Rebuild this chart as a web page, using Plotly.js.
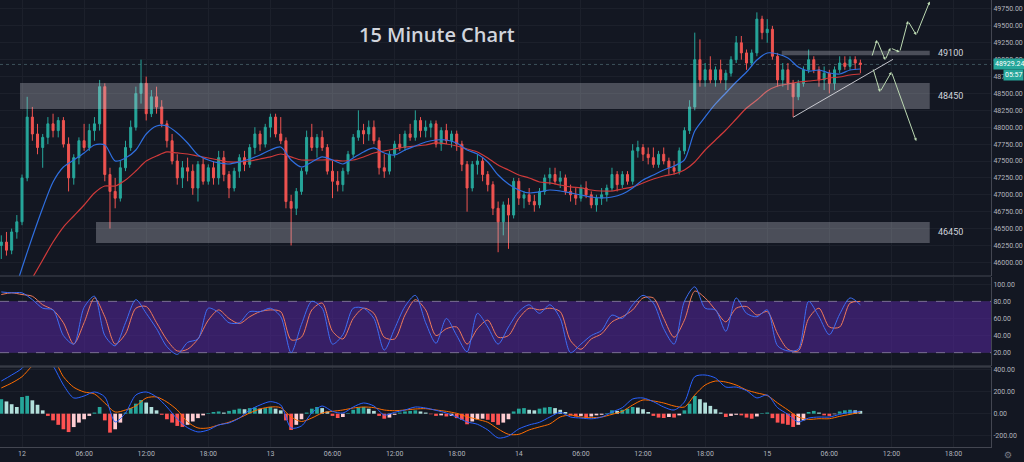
<!DOCTYPE html>
<html><head><meta charset="utf-8">
<script src="https://cdn.plot.ly/plotly-3.0.1.min.js"></script>
<style>html,body{margin:0;padding:0;background:#131722;}#chart{width:1024px;height:462px;}</style>
</head><body><div id="chart"></div>
<script>
// ---------- DATA (30-minute candles) ----------
const firstCandle = '2021-02-11 22:00:00';
const candleMinutes = 30;
const opens = [46250,46300,46180,46450,46600,47250,48150,47900,47700,47850,
48050,47950,48100,47750,47250,47550,47800,47700,47950,48050,
48600,47300,47050,46950,47400,47700,48000,48500,48650,48200,
48450,48300,48050,47800,47500,47250,47400,47350,47100,47450,
47200,47400,47250,47550,47300,47100,47350,47550,47450,47700,
47900,47750,48000,48150,47900,47800,46900,46800,47050,47350,
47850,47700,47850,47700,47350,47200,47150,47350,47600,47850,
47950,47900,48000,47800,47400,47350,47600,47750,47700,47900,
47850,48100,47950,48000,48050,47750,47950,47800,47900,47750,
47450,47100,47450,47500,47300,47150,46800,46600,46850,46700,
47200,46950,47000,46900,46850,47050,47250,47300,47200,47250,
47050,47000,46950,47100,47000,46850,46950,47000,47100,47300,
47150,47300,47200,47650,47700,47600,47550,47450,47600,47500,
47400,47350,47650,47950,48300,49000,48700,48850,48700,48850,
48700,48800,49000,49250,49100,48950,49100,49600,49400,49450,
49050,48700,48850,48650,48450,48650,48850,49000,48850,48700,
48800,48650,48850,48950,48900,49000,48950];
const highs = [46400,46450,46500,46700,47300,48450,48300,48050,47900,48150,
48200,48150,48150,47850,47600,47850,48050,48050,48150,48700,
48650,47400,47250,47500,47800,48100,48600,49000,48750,48550,
48600,48400,48100,47900,47600,47500,47550,47450,47500,47550,
47450,47500,47650,47650,47350,47400,47600,47650,47750,48000,
47950,48050,48200,48200,48150,47850,47000,47100,47400,47950,
48050,47900,47950,47750,47500,47350,47400,47650,47900,48250,
48050,48100,48100,47850,47600,47650,47800,47900,47950,48050,
48250,48150,48100,48100,48100,48000,48050,47950,47950,47800,
47500,47500,47600,47550,47350,47200,46900,46900,46950,47250,
47250,47050,47100,47000,47100,47300,47400,47400,47350,47300,
47150,47100,47150,47200,47050,47000,47100,47150,47400,47350,
47350,47350,47750,47800,47750,47700,47700,47650,47700,47550,
47500,47700,48000,48400,49400,49300,48950,49050,48900,49000,
48850,49050,49350,49350,49150,49150,49700,49650,49600,49500,
49100,48950,48950,48700,48700,48900,49150,49050,48900,48900,
48850,48900,49050,49050,49050,49050,49000];
const lows = [46050,46100,46120,46350,46550,47200,47800,47600,47400,47750,
47850,47850,47700,47050,47150,47450,47650,47650,47800,47950,
47200,46500,46800,46900,47350,47650,47950,48350,48100,48150,
48200,48000,47700,47450,47150,47100,47200,47000,46900,47150,
47150,47150,47150,47200,46950,47050,47250,47350,47400,47600,
47650,47700,47850,47850,47750,46800,46250,46700,47000,47300,
47650,47550,47650,47300,46950,47050,47050,47300,47550,47800,
47750,47800,47750,47300,47250,47300,47550,47650,47650,47800,
47800,47850,47850,47850,47700,47650,47750,47700,47650,47350,
46750,47050,47300,47200,47050,46700,46150,46400,46200,46650,
46850,46800,46850,46750,46800,47000,47150,47150,47100,47000,
46900,46850,46900,46950,46800,46750,46850,46900,47050,47050,
47100,47150,47150,47550,47500,47450,47400,47400,47450,47300,
47300,47300,47600,47900,48250,48600,48600,48650,48600,48650,
48550,48750,48950,49000,48850,48900,49050,49300,49250,49000,
48600,48600,48550,48150,48400,48600,48800,48800,48600,48550,
48500,48550,48800,48850,48850,48850,48800];
const closes = [46300,46180,46450,46600,47250,48150,47900,47700,47850,48050,
47950,48100,47750,47250,47550,47800,47700,47950,48050,48600,
47300,47050,46950,47400,47700,48000,48500,48650,48200,48450,
48300,48050,47800,47500,47250,47400,47350,47100,47450,47200,
47400,47250,47550,47300,47100,47350,47550,47450,47700,47900,
47750,48000,48150,47900,47800,46900,46800,47050,47350,47850,
47700,47850,47700,47350,47200,47150,47350,47600,47850,47950,
47900,48000,47800,47400,47350,47600,47750,47700,47900,47850,
48100,47950,48000,48050,47750,47950,47800,47900,47750,47450,
47100,47450,47500,47300,47150,46800,46600,46850,46700,47200,
46950,47000,46900,46850,47050,47250,47300,47200,47250,47050,
47000,46950,47100,47000,46850,46950,47000,47100,47300,47150,
47300,47200,47650,47700,47600,47550,47450,47600,47500,47400,
47350,47650,47950,48300,49000,48700,48850,48700,48850,48700,
48800,49000,49250,49100,48950,49100,49600,49400,49450,49050,
48700,48850,48650,48450,48650,48850,49000,48850,48700,48800,
48650,48850,48950,48900,49000,48950,48929.24];
// MACD histogram, one bar per candle
const macdHist = [130,110,85,60,150,160,120,80,30,-20,
-60,-100,-140,-165,-120,-80,-50,-20,10,60,
-60,-170,-140,-80,10,50,90,123,100,60,
30,-10,-50,-80,-110,-119,-100,-70,-40,-15,
5,15,20,10,25,35,45,40,50,55,
45,50,60,45,30,-60,-146,-100,-50,10,
45,60,50,20,-20,-39,-30,5,35,55,
60,45,25,-20,-45,-35,-10,10,20,25,
30,20,10,-5,-20,-15,-25,-20,-40,-55,
-95,-70,-50,-45,-55,-75,-100,-80,-50,20,
45,50,35,30,45,55,60,50,35,15,
-15,-25,-20,-30,-25,-15,-10,5,30,25,
35,45,60,55,40,15,-20,-35,-39,-30,
-35,-15,30,90,159,130,100,70,40,10,
-30,-20,-10,-15,-35,-45,-25,5,10,-40,
-80,-90,-100,-119,-100,-60,15,25,10,-15,
-20,-5,20,30,35,30,25];

// Hourly readings (from 11th 22:00 to 15th 09:00)
const emaFast = [44999,45443,45917,46375,46805,47189,47411,47515,47619,47737,
47737,47500,47545,47663,47900,48018,48018,47915,47767,47589,
47515,47471,47456,47486,47530,47589,47663,47707,47515,47411,
47486,47560,47515,47456,47545,47634,47693,47619,47589,47663,
47722,47781,47811,47811,47767,47663,47604,47486,47293,47160,
47071,47027,47042,47071,47056,47027,46997,46967,46953,46967,
47012,47101,47219,47293,47367,47426,47515,47944,48152,48344,
48507,48669,48817,48995,49099,49084,49025,48892,48832,48847,
48803,48788,48847,48862];
const emaSlow = [44969,45236,45502,45769,46035,46301,46523,46686,46849,47027,
47130,47130,47219,47352,47500,47574,47634,47619,47604,47574,
47545,47515,47486,47486,47500,47530,47560,47604,47560,47515,
47515,47515,47515,47500,47515,47560,47619,47648,47678,47707,
47722,47737,47767,47752,47722,47678,47634,47545,47441,47367,
47293,47249,47189,47175,47145,47116,47101,47071,47056,47056,
47086,47116,47175,47234,47278,47308,47367,47486,47663,47811,
47959,48122,48284,48403,48536,48610,48640,48669,48684,48699,
48729,48743,48773,48788];
const stochK = [91,90,90,82,72,70,40,30,73,86,
40,28,55,82,66,48,27,18,32,36,
72,67,55,55,68,68,72,62,20,53,
80,72,30,41,72,72,60,23,48,74,
87,55,31,60,40,21,66,50,30,50,
68,76,66,76,60,20,30,40,46,64,
60,76,87,78,48,30,80,97,72,70,
45,84,66,62,70,28,22,24,80,62,
41,65,84,76];
const stochD = [88,90,88,86,76,70,55,30,55,84,
62,30,42,72,74,55,35,22,24,36,
58,70,60,54,62,68,70,68,35,38,
70,78,45,36,60,72,66,38,36,64,
82,70,40,48,50,30,48,58,38,40,
60,72,70,72,68,34,24,36,42,56,
62,70,84,84,60,38,58,92,84,70,
56,72,74,64,68,42,24,22,60,72,
50,50,78,80];
const macdLine = [293,347,407,520,540,430,258,141,159,195,
150,-74,6,168,195,150,60,-48,-126,-164,
-146,-101,-83,-39,33,78,108,78,-128,-110,
6,69,21,6,60,96,69,-12,12,33,
60,51,30,6,-30,-74,-95,-146,-218,-200,
-137,-101,-77,-30,12,-30,-39,-46,-30,15,
54,132,141,108,60,33,105,332,347,320,
239,239,207,141,168,54,-6,-74,-39,-30,
-30,-6,12,18];
const macdSignal = [231,275,332,430,500,490,332,237,195,177,
96,15,33,69,141,150,105,33,-74,-128,
-128,-101,-77,-39,6,42,60,54,-30,-70,
-39,6,21,33,51,60,54,33,27,33,
42,45,33,21,3,-27,-51,-77,-137,-185,
-185,-146,-119,-92,-30,-12,-30,-36,-30,-6,
21,78,123,114,96,69,60,168,257,293,
284,257,213,186,163,96,33,-30,-51,-45,
-45,-24,-6,12];

// Axis tick labels
const priceTicks = [46000,46250,46500,46750,47000,47250,47500,47750,48000,48250,48500,48750,49000,49250,49500,49750];
const stochTicks = [20,40,60,80,100];
const macdTicks = [-200,0,200,400];
const timeTickHours = [0,6,12,18,24,30,36,42,48,54,60,66,72,78,84,90];
const timeTickText = ['12','06:00','12:00','18:00','13','06:00','12:00','18:00','14','06:00','12:00','18:00','15','06:00','12:00','18:00'];

// Drawings (hours from 12th 00:00, price)
const zoneLabels = ['49100','48450','46450'];
const zoneLow = [49065,48270,46287];
const zoneHigh = [49133,48655,46598];
const zoneFromHours = [73.4,-0.19,7.15];
const zoneToHours = 87.7;
const supportLine = [[74.5,48147],[84.15,49005]];
const bullPath = [[82.1,49039],[82.6,49291],[83.4,48995],[83.9,49173],[84.8,49113],[85.6,49572],[86.4,49365],[87.7,49860]];
const bearPath = [[82.2,48877],[82.9,48522],[84.0,48818],[86.4,47796]];
const lastPrice = 48929.24;
const countdown = '05:57';

// ---------- BUILD ----------
const pad = n => String(n).padStart(2,'0');
function fmt(ms){const d=new Date(ms);return d.getUTCFullYear()+'-'+pad(d.getUTCMonth()+1)+'-'+pad(d.getUTCDate())+' '+pad(d.getUTCHours())+':'+pad(d.getUTCMinutes())+':'+pad(d.getUTCSeconds());}
const t0 = Date.parse(firstCandle.replace(' ','T')+'Z');
const H0 = Date.parse('2021-02-12T00:00:00Z');
const hr = h => fmt(H0 + h*3600000);
const candleTimes = opens.map((_,i)=>fmt(t0 + i*candleMinutes*60000));
const hourTimes = emaFast.map((_,k)=>fmt(t0 + k*3600000));

const histColors = macdHist.map((v,i)=>{const p=i>0?macdHist[i-1]:v;
  if(v>=0) return v>=p?'#26a69a':'#b2dfdb'; return v<=p?'#ff5252':'#ffcdd2';});

const traces = [
  {type:'candlestick', x:candleTimes, open:opens, high:highs, low:lows, close:closes, xaxis:'x', yaxis:'y',
   increasing:{line:{color:'#26a69a',width:1},fillcolor:'#26a69a'},
   decreasing:{line:{color:'#ef5350',width:1},fillcolor:'#ef5350'}, whiskerwidth:0, hoverinfo:'skip'},
  {type:'scatter', mode:'lines', x:hourTimes, y:emaSlow, yaxis:'y', line:{color:'#d03a3a',width:1.2,shape:'spline',smoothing:0.8}, hoverinfo:'skip'},
  {type:'scatter', mode:'lines', x:hourTimes, y:emaFast, yaxis:'y', line:{color:'#2f6fe0',width:1.2,shape:'spline',smoothing:0.8}, hoverinfo:'skip'},
  {type:'scatter', mode:'lines', x:hourTimes, y:stochD, yaxis:'y2', line:{color:'#f07a5a',width:1,shape:'spline',smoothing:0.8}, hoverinfo:'skip'},
  {type:'scatter', mode:'lines', x:hourTimes, y:stochK, yaxis:'y2', line:{color:'#3d6ef5',width:1,shape:'spline',smoothing:0.8}, hoverinfo:'skip'},
  {type:'bar', x:candleTimes, y:macdHist, yaxis:'y3', width:candleMinutes*60000*0.72, marker:{color:histColors,line:{width:0}}, hoverinfo:'skip'},
  {type:'scatter', mode:'lines', x:hourTimes, y:macdSignal, yaxis:'y3', line:{color:'#ff6d00',width:1,shape:'spline',smoothing:0.8}, hoverinfo:'skip'},
  {type:'scatter', mode:'lines', x:hourTimes, y:macdLine, yaxis:'y3', line:{color:'#2962ff',width:1,shape:'spline',smoothing:0.8}, hoverinfo:'skip'}
];

const xr = [hr(-2.1256), hr(93.62)];
const shapes = [];
// stoch band
shapes.push({type:'rect', xref:'x', yref:'y2', x0:xr[0], x1:xr[1], y0:20, y1:80, fillcolor:'rgba(88,38,165,0.52)', line:{width:0}, layer:'between'});
[20,80].forEach(v=>shapes.push({type:'line', xref:'x', yref:'y2', x0:xr[0], x1:xr[1], y0:v, y1:v, line:{color:'rgba(140,130,160,0.8)',width:1,dash:'dash'}, layer:'between'}));
// last price line
shapes.push({type:'line', xref:'x', yref:'y', x0:xr[0], x1:xr[1], y0:lastPrice, y1:lastPrice, line:{color:'rgba(110,150,160,0.45)',width:1,dash:'dot'}, layer:'between'});
// zones
zoneLabels.forEach((lab,i)=>shapes.push({type:'rect', xref:'x', yref:'y', x0:hr(zoneFromHours[i]), x1:hr(zoneToHours), y0:zoneLow[i], y1:zoneHigh[i], fillcolor:'rgba(200,202,212,0.31)', line:{width:0}, layer:'above'}));
// support line
shapes.push({type:'line', xref:'x', yref:'y', x0:hr(supportLine[0][0]), y0:supportLine[0][1], x1:hr(supportLine[1][0]), y1:supportLine[1][1], line:{color:'rgba(225,225,230,0.85)',width:1}});
// panel separators
[1-276/447, 1-366/447, 1-367/447].forEach(v=>shapes.push({type:'line', xref:'paper', yref:'paper', x0:0, x1:1, y0:v, y1:v, line:{color:'#434651',width:1}}));

const annotations = [];
annotations.push({xref:'paper', yref:'paper', x:0.441, y:1-35/447, text:'15 Minute Chart', showarrow:false,
  font:{family:'Open Sans', size:20, color:'#d1d4dc', weight:600}, xanchor:'center', yanchor:'middle'});
zoneLabels.forEach((lab,i)=>annotations.push({xref:'x', yref:'y', x:hr(88.3), y:(zoneLow[i]+zoneHigh[i])/2, text:lab, showarrow:false,
  xanchor:'left', yanchor:'middle', font:{family:'Roboto', size:9, color:'#d1d4dc'}}));
function addPath(path){
  for(let k=1;k<path.length;k++){
    annotations.push({xref:'x', yref:'y', axref:'x', ayref:'y', x:hr(path[k][0]), y:path[k][1], ax:hr(path[k-1][0]), ay:path[k-1][1],
      text:'', showarrow:true, arrowhead:2, arrowsize:0.6, arrowwidth:1, arrowcolor:'#bcd9b2', standoff:0});
  }
}
addPath(bullPath); addPath(bearPath);
annotations.push({xref:'paper', yref:'y', x:1.002, y:lastPrice, text:lastPrice.toFixed(2), showarrow:false, xanchor:'left', yanchor:'middle',
  bgcolor:'#26a69a', borderpad:1, font:{family:'Roboto', size:7, color:'#ffffff'}});
annotations.push({xref:'paper', yref:'y', x:1024/991, y:lastPrice-160, text:countdown, showarrow:false, xanchor:'right', yanchor:'middle',
  bgcolor:'#26a69a', borderpad:1, font:{family:'Roboto', size:7, color:'#ffffff'}});
annotations.push({xref:'paper', yref:'paper', x:1008/991, y:-8/447, text:'⚙', showarrow:false, xanchor:'center', yanchor:'middle',
  font:{family:'DejaVu Sans', size:9, color:'#787b86'}});

const axFont = {family:'Roboto', size:7, color:'#b2b5be'};
const yBase = {side:'right', anchor:'x', showgrid:true, gridcolor:'#1c202b', zeroline:false, showline:true, linecolor:'#434651',
  ticks:'', tickfont:axFont, fixedrange:true};
const layout = {
  width:1024, height:462, paper_bgcolor:'#131722', plot_bgcolor:'rgba(0,0,0,0)',
  margin:{l:0, r:33, t:0, b:15}, showlegend:false, hovermode:false, dragmode:false, boxgap:0.45,
  xaxis:{type:'date', range:xr, anchor:'y3', tickmode:'array', tickvals:timeTickHours.map(h=>hr(h)), ticktext:timeTickText,
    tickfont:axFont, showgrid:true, gridcolor:'#1c202b', zeroline:false, showline:true, linecolor:'#434651', ticks:'',
    rangeslider:{visible:false}, fixedrange:true},
  yaxis:Object.assign({}, yBase, {domain:[1-276/447,1], range:[45798,49883], tickmode:'array', tickvals:priceTicks, ticktext:priceTicks.map(v=>v.toFixed(2))}),
  yaxis2:Object.assign({}, yBase, {domain:[1-366/447,1-277/447], range:[4.4,108.5], tickmode:'array', tickvals:stochTicks, ticktext:stochTicks.map(v=>v.toFixed(2))}),
  yaxis3:Object.assign({}, yBase, {domain:[0,1-367/447], range:[-299,419], tickmode:'array', tickvals:macdTicks, ticktext:macdTicks.map(v=>v.toFixed(2))}),
  shapes:shapes, annotations:annotations
};
Plotly.newPlot('chart', traces, layout, {staticPlot:true, displayModeBar:false});
</script></body></html>
